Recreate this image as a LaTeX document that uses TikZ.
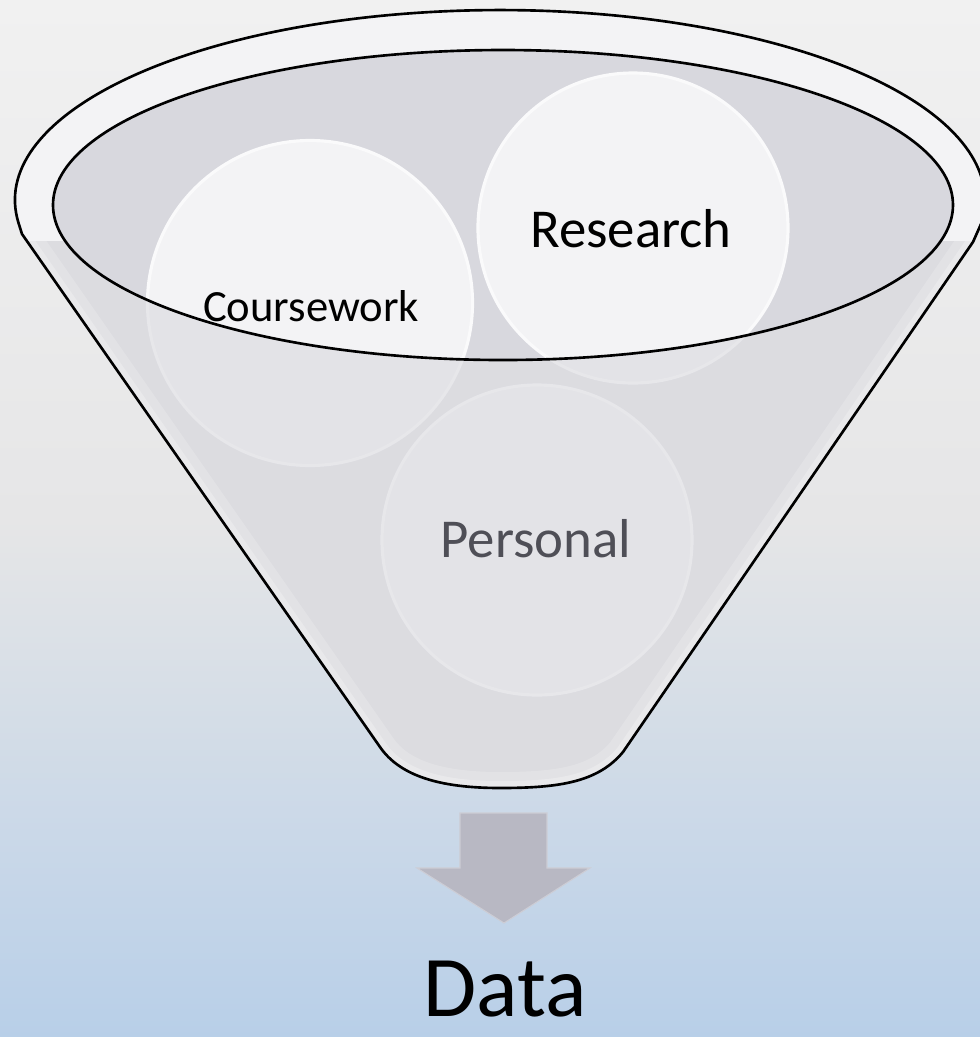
\documentclass[tikz,border=0pt]{standalone}
\usepackage{fontspec}
\setmainfont{Carlito}
\definecolor{bgtop}{HTML}{F1F1F1}
\definecolor{bgmid}{HTML}{E6E6E7}
\definecolor{bgbot}{HTML}{B8CFE8}
\definecolor{body}{HTML}{E6E6EA}
\definecolor{rim}{HTML}{F3F3F5}
\definecolor{mouth}{HTML}{D8D8DE}
\definecolor{ball}{HTML}{F3F3F5}
\definecolor{ballrim}{HTML}{FAFAFB}
\definecolor{veil}{HTML}{D0D0D6}
\definecolor{arrowgray}{HTML}{B8B8C3}
\definecolor{softtext}{HTML}{4F4F57}
\pgfdeclareverticalshading{backdrop}{100bp}{color(0bp)=(bgbot); color(25bp)=(bgbot);
  color(50bp)=(bgmid); color(75bp)=(bgtop); color(100bp)=(bgtop)}
\newcommand\funnelpath{(380,747) -- (22,234) -- (18.6,223.2)
  arc[start angle=173, end angle=367, x radius=485, y radius=190]
  -- (973,242) -- (623,752) .. controls (598,782) and (560,788) .. (500,788)
  .. controls (440,788) and (400,776) .. cycle}
\tikzset{
  ball/.style={circle, inner sep=0pt, fill=ball, draw=ballrim, line width=0.9pt},
  outline/.style={draw=black, line width=0.75pt},
  word/.style={font=\fontsize{15.6pt}{18pt}\selectfont},
}
\begin{document}
\begin{tikzpicture}[x=0.1mm,y=-0.1mm]
\useasboundingbox (0,0) rectangle (980,1037);
\fill[shading=backdrop] (0,0) rectangle (980,1037);

% funnel back and mouth
\fill[body] \funnelpath;
\fill[mouth] (503,205) ellipse[x radius=450, y radius=155];

% the three sources
\node[ball, minimum size=32.5mm] (course) at (310,303) {};
\node[ball, minimum size=31mm] (research) at (633,228) {};
\node[ball, minimum size=31mm] (personal) at (537,540) {};

% front of the funnel
\fill[veil, fill opacity=0.45, even odd rule] \funnelpath (503,205) ellipse[x radius=450, y radius=155];
\begin{scope}
\clip \funnelpath;
\draw[white, line width=3.2mm, opacity=0.18] \funnelpath;
\draw[white, line width=1.4mm, opacity=0.25] \funnelpath;
\end{scope}
\begin{scope}
\clip (0,0) rectangle (980,240);
\fill[rim, even odd rule] (500,200) ellipse[x radius=485, y radius=190] (503,205) ellipse[x radius=450, y radius=155];
\end{scope}
\path[outline] \funnelpath;
\path[outline] (503,205) ellipse[x radius=450, y radius=155];

\node[font=\fontsize{12.7pt}{15pt}\selectfont] at (311,306) {Coursework};
\node[word] at (631,229) {Research};
\node[word, text=softtext] at (536,539) {Personal};

% output
\fill[arrowgray, draw=arrowgray!70!white, line width=0.3pt] (460,813) -- (547,813) -- (547,868) -- (590,868) -- (504,923) -- (417,868) -- (460,868) -- cycle;
\node[anchor=base, inner sep=0pt, font=\fontsize{24.6pt}{28pt}\selectfont] (data) at (505,1016) {Data};
\end{tikzpicture}
\end{document}
